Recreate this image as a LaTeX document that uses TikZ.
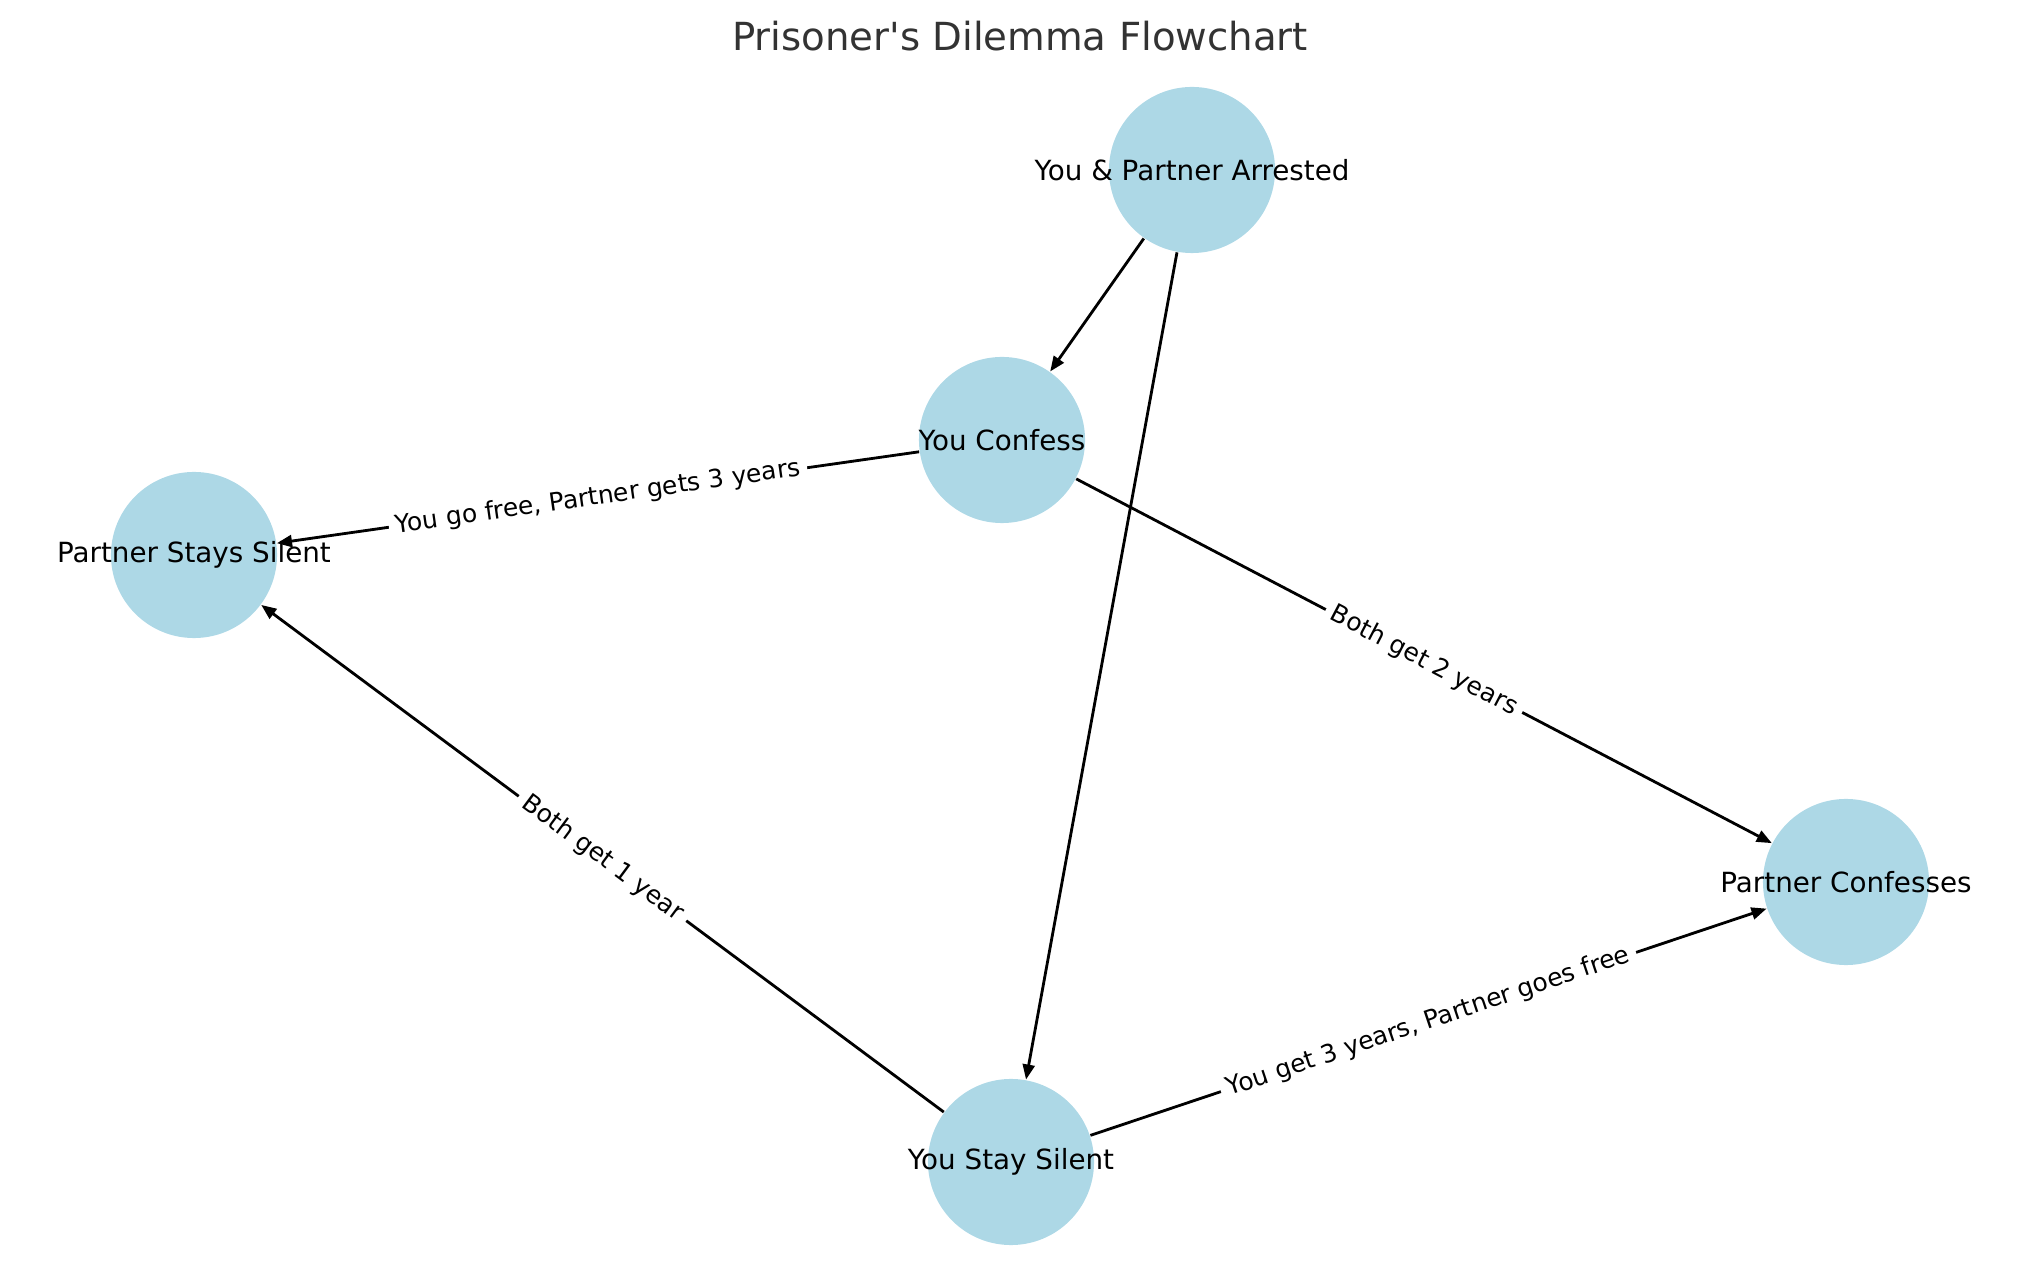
\documentclass[tikz,border=0pt]{standalone}
\usepackage{fontspec}
\setmainfont{DejaVu Sans}
\usepackage{tikz}
\usetikzlibrary{arrows.meta}
\definecolor{nodeB}{HTML}{ADD8E6}
\definecolor{titleG}{HTML}{333333}
\newcommand{\overhang}[1]{\makebox[0pt]{#1}}
\tikzset{choice/.style={circle, fill=nodeB, minimum size=1.66cm, inner sep=0pt,
  font=\fontsize{7.9}{9}\selectfont},
  flow/.style={-{Triangle[length=4.3pt, width=3.4pt]}, line width=0.8pt},
  outcome/.style={midway, sloped, fill=white, inner sep=2pt,
  font=\fontsize{7.1}{8}\selectfont}}

\begin{document}
\begin{tikzpicture}[x=0.01cm, y=-0.01cm]
\useasboundingbox (0,0) rectangle (2039,1286);
% Title
\node[font=\fontsize{11}{13}\selectfont, text=titleG] (title) at (1020,36) {Prisoner\textquotesingle s Dilemma Flowchart};
% States
\node[choice] (arrest) at (1192,170) {\overhang{You \& Partner Arrested}};
\node[choice] (confess) at (1002,440) {\overhang{You Confess}};
\node[choice] (pSilent) at (194,555) {\overhang{Partner Stays Silent}};
\node[choice] (pConfess) at (1846,882) {\overhang{Partner Confesses}};
\node[choice] (silent) at (1011,1162) {\overhang{You Stay Silent}};
% Moves and outcomes
\draw[flow] (arrest) -- (confess);
\draw[flow] (arrest) -- (silent);
\draw[flow] (confess) -- (pSilent) node[outcome] {You go free, Partner gets 3 years};
\draw[flow] (confess) -- (pConfess) node[outcome] {Both get 2 years};
\draw[flow] (silent) -- (pSilent) node[outcome] {Both get 1 year};
\draw[flow] (silent) -- (pConfess) node[outcome] {You get 3 years, Partner goes free};
\end{tikzpicture}
\end{document}
